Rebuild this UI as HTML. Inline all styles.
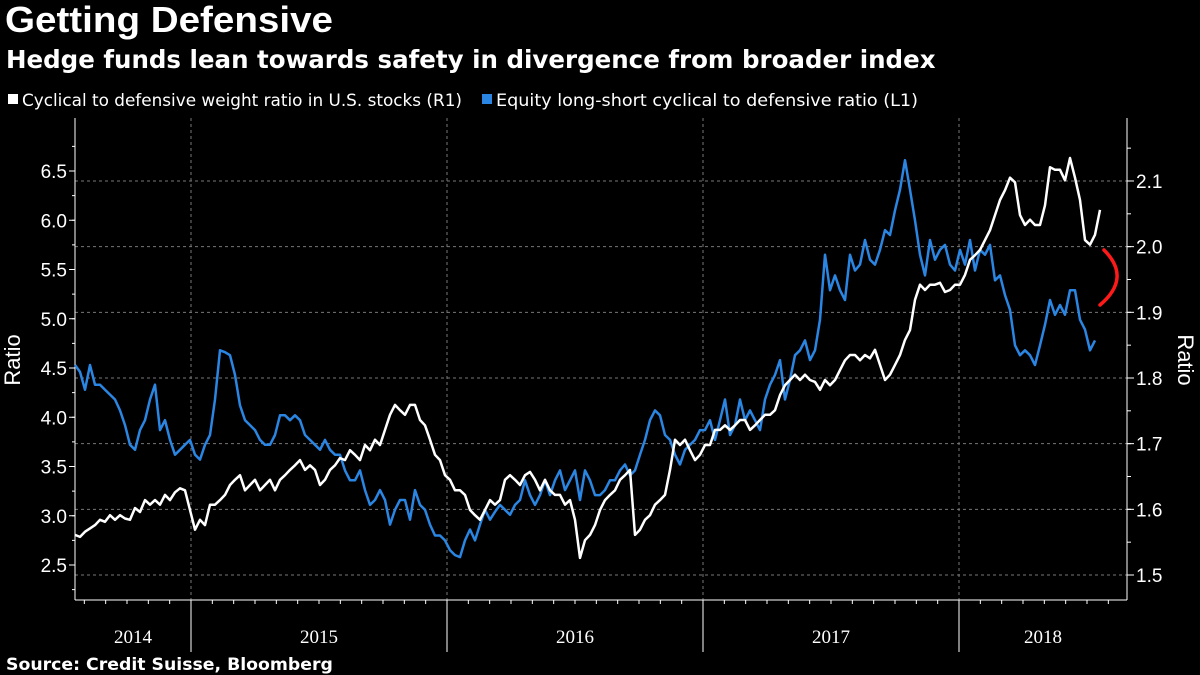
<!DOCTYPE html>
<html><head><meta charset="utf-8"><style>
html,body{margin:0;padding:0;background:#000;}
svg{display:block;font-family:"Liberation Sans",sans-serif;}
</style></head><body>
<svg id="c" width="1200" height="675" viewBox="0 0 1200 675">
<rect width="1200" height="675" fill="#000"/>
<text x="5" y="32" fill="#fff" font-size="36" font-weight="bold" textLength="328" lengthAdjust="spacingAndGlyphs">Getting Defensive</text>
<text x="6" y="68" fill="#fff" font-size="24.5" font-weight="bold" font-family="DejaVu Sans, sans-serif">Hedge funds lean towards safety in divergence from broader index</text>
<g>
<g><rect x="8" y="94" width="10" height="10" fill="#fff"/><text x="22" y="106" fill="#fff" font-size="16.9" font-family="DejaVu Sans, sans-serif" textLength="440" lengthAdjust="spacingAndGlyphs">Cyclical to defensive weight ratio in U.S. stocks (R1)</text></g>
<g><rect x="482" y="94" width="10" height="10" fill="#2a86e2"/><text x="496" y="106" fill="#fff" font-size="17" font-family="DejaVu Sans, sans-serif" textLength="422" lengthAdjust="spacingAndGlyphs">Equity long-short cyclical to defensive ratio (L1)</text></g>
</g>
<g id="grid"></g>
<g id="axes"></g>
<g id="series"></g>
<path d="M1104,250 Q1132,278 1100,305" fill="none" stroke="#ff1a1a" stroke-width="3.5" stroke-linecap="round"/>
<text x="20" y="360" fill="#fff" font-size="22" transform="rotate(-90 20 360)" text-anchor="middle">Ratio</text>
<text x="1178" y="360" fill="#fff" font-size="22" transform="rotate(90 1178 360)" text-anchor="middle">Ratio</text>
<text x="6" y="670" fill="#fff" font-size="17.3" font-weight="bold" font-family="DejaVu Sans, sans-serif">Source: Credit Suisse, Bloomberg</text>
</svg>
<script>
const leftTicks=[2.5,3.0,3.5,4.0,4.5,5.0,5.5,6.0,6.5];
const rightTicks=[1.5,1.6,1.7,1.8,1.9,2.0,2.1];
const years=[2014,2015,2016,2017,2018];
const startDate=2014.547;
const weekStep=5/256;
const blue=[4.53,4.46,4.28,4.53,4.33,4.33,4.28,4.23,4.18,4.07,3.92,3.72,3.67,3.87,3.97,4.18,4.33,3.87,3.97,3.77,3.62,3.67,3.72,3.77,3.62,3.57,3.72,3.82,4.18,4.68,4.66,4.63,4.43,4.12,3.97,3.92,3.87,3.77,3.72,3.72,3.82,4.02,4.02,3.97,4.02,3.97,3.82,3.77,3.72,3.67,3.77,3.67,3.62,3.62,3.46,3.36,3.36,3.46,3.26,3.11,3.16,3.26,3.16,2.91,3.06,3.16,3.16,2.96,3.26,3.11,3.06,2.91,2.80,2.80,2.75,2.65,2.60,2.58,2.75,2.86,2.75,2.91,3.06,2.96,3.04,3.11,3.06,3.01,3.11,3.16,3.36,3.21,3.11,3.21,3.36,3.21,3.36,3.46,3.26,3.36,3.46,3.16,3.46,3.36,3.21,3.21,3.26,3.36,3.36,3.46,3.52,3.41,3.46,3.62,3.77,3.97,4.07,4.02,3.82,3.77,3.62,3.52,3.67,3.72,3.77,3.87,3.87,3.97,3.77,3.97,4.18,3.82,3.92,4.18,3.97,4.07,3.97,3.87,4.18,4.33,4.43,4.58,4.18,4.38,4.63,4.68,4.78,4.58,4.68,4.99,5.65,5.29,5.44,5.29,5.19,5.65,5.49,5.55,5.80,5.60,5.55,5.70,5.90,5.85,6.10,6.31,6.61,6.31,6.00,5.65,5.44,5.80,5.60,5.70,5.75,5.55,5.49,5.70,5.55,5.80,5.49,5.70,5.65,5.75,5.39,5.44,5.24,5.09,4.73,4.63,4.68,4.63,4.53,4.73,4.94,5.19,5.04,5.14,5.04,5.29,5.29,4.99,4.89,4.68,4.78];
const white=[1.561,1.558,1.566,1.571,1.576,1.584,1.581,1.591,1.584,1.591,1.586,1.584,1.602,1.596,1.614,1.607,1.614,1.607,1.622,1.614,1.626,1.632,1.629,1.599,1.569,1.584,1.576,1.607,1.607,1.614,1.622,1.637,1.645,1.652,1.629,1.637,1.645,1.629,1.637,1.645,1.629,1.645,1.652,1.660,1.667,1.675,1.660,1.667,1.660,1.637,1.645,1.660,1.667,1.678,1.675,1.690,1.683,1.675,1.698,1.690,1.706,1.698,1.721,1.744,1.759,1.751,1.744,1.759,1.759,1.736,1.728,1.706,1.683,1.675,1.652,1.645,1.629,1.629,1.622,1.599,1.591,1.584,1.599,1.614,1.607,1.614,1.645,1.652,1.645,1.637,1.652,1.657,1.645,1.629,1.645,1.629,1.622,1.622,1.607,1.614,1.584,1.526,1.553,1.561,1.576,1.599,1.614,1.622,1.629,1.645,1.652,1.660,1.561,1.569,1.584,1.591,1.607,1.614,1.622,1.660,1.706,1.698,1.706,1.690,1.675,1.683,1.698,1.698,1.721,1.721,1.728,1.721,1.728,1.736,1.736,1.721,1.728,1.736,1.744,1.744,1.751,1.774,1.789,1.797,1.805,1.797,1.805,1.797,1.794,1.782,1.797,1.789,1.797,1.812,1.827,1.835,1.835,1.827,1.835,1.830,1.843,1.820,1.797,1.805,1.820,1.835,1.858,1.873,1.919,1.942,1.934,1.942,1.942,1.945,1.931,1.934,1.942,1.942,1.957,1.980,1.987,1.995,2.010,2.025,2.048,2.071,2.086,2.105,2.098,2.048,2.033,2.041,2.033,2.033,2.063,2.121,2.117,2.117,2.101,2.135,2.105,2.071,2.010,2.003,2.018,2.056];

const NS="http://www.w3.org/2000/svg";
const X0=75,X1=1127,Y0=600,Ytop=118;
function xScale(t){return 191+(t-2015)*256;}
function yLeft(v){return 565-(v-2.5)*98.5;}
function yRight(v){return 575-(v-1.5)*656.7;}
function mk(tag,attrs,parent){const e=document.createElementNS(NS,tag);for(const k in attrs)e.setAttribute(k,attrs[k]);parent.appendChild(e);return e;}
const grid=document.getElementById('grid'),axes=document.getElementById('axes'),series=document.getElementById('series');

rightTicks.forEach(v=>{
  const y=yRight(v);
  const g=mk('line',{x1:X0,x2:X1,y1:y,y2:y,stroke:'#777','stroke-width':1,'stroke-dasharray':'3,3'},grid);
  
  
  const t=mk('line',{x1:X1,x2:X1+7,y1:y,y2:y,stroke:'#fff','stroke-width':1},axes);
  
  
  const l=mk('text',{x:X1+9,y:y+7,fill:'#fff','font-size':19},axes);
  l.textContent=v.toFixed(1);
  
  
});
for(let v=1.45;v<2.2;v+=0.05){const y=yRight(v);if(y<Ytop||y>Y0)continue;mk('line',{x1:X1,x2:X1+4,y1:y,y2:y,stroke:'#fff','stroke-width':1},axes);}
leftTicks.forEach(v=>{
  const y=yLeft(v);
  const t=mk('line',{x1:X0-6,x2:X0,y1:y,y2:y,stroke:'#fff','stroke-width':1},axes);
  
  
  const l=mk('text',{x:X0-8,y:y+7,fill:'#fff','font-size':19,'text-anchor':'end'},axes);
  l.textContent=v.toFixed(1);
  
  
});
for(let v=2.25;v<7;v+=0.25){const y=yLeft(v);if(y<Ytop||y>Y0)continue;mk('line',{x1:X0-3,x2:X0,y1:y,y2:y,stroke:'#fff','stroke-width':1},axes);}
years.forEach(yr=>{
  const xb=xScale(yr+1);
  if(xb<X1){
    const g=mk('line',{x1:xb,x2:xb,y1:Ytop,y2:Y0,stroke:'#777','stroke-width':1,'stroke-dasharray':'3,3'},grid);
    
    
    mk('line',{x1:xb,x2:xb,y1:Y0,y2:652,stroke:'#fff','stroke-width':1},axes);
  }
  const a=Math.max(X0,xScale(yr)),b=Math.min(X1,xScale(yr+1));
  const l=mk('text',{x:(a+b)/2,y:643,fill:'#fff','font-size':19,'text-anchor':'middle','font-family':'Liberation Serif, serif'},axes);
  l.textContent=yr;
  
  
  for(let m=1;m<12;m++){const x=xScale(yr+m/12);if(x>X0&&x<X1)mk('line',{x1:x,x2:x,y1:Y0,y2:Y0+4,stroke:'#fff','stroke-width':1},axes);}
});
const la=mk('line',{x1:X0,x2:X0,y1:Ytop,y2:Y0,stroke:'#fff','stroke-width':1},axes);

const ra=mk('line',{x1:X1,x2:X1,y1:Ytop,y2:Y0,stroke:'#fff','stroke-width':1},axes);

const ba=mk('line',{x1:X0,x2:X1,y1:Y0,y2:Y0,stroke:'#fff','stroke-width':1},axes);


function pathOf(arr,ys){return arr.map((v,i)=>(i?'L':'M')+xScale(startDate+i*weekStep).toFixed(1)+','+ys(v).toFixed(1)).join('');}
const pb=mk('path',{d:pathOf(blue,yLeft),fill:'none',stroke:'#2a86e2','stroke-width':2.5,'stroke-linejoin':'round'},series);


const pw=mk('path',{d:pathOf(white,yRight),fill:'none',stroke:'#fff','stroke-width':2.5,'stroke-linejoin':'round'},series);


</script>
</body></html>
